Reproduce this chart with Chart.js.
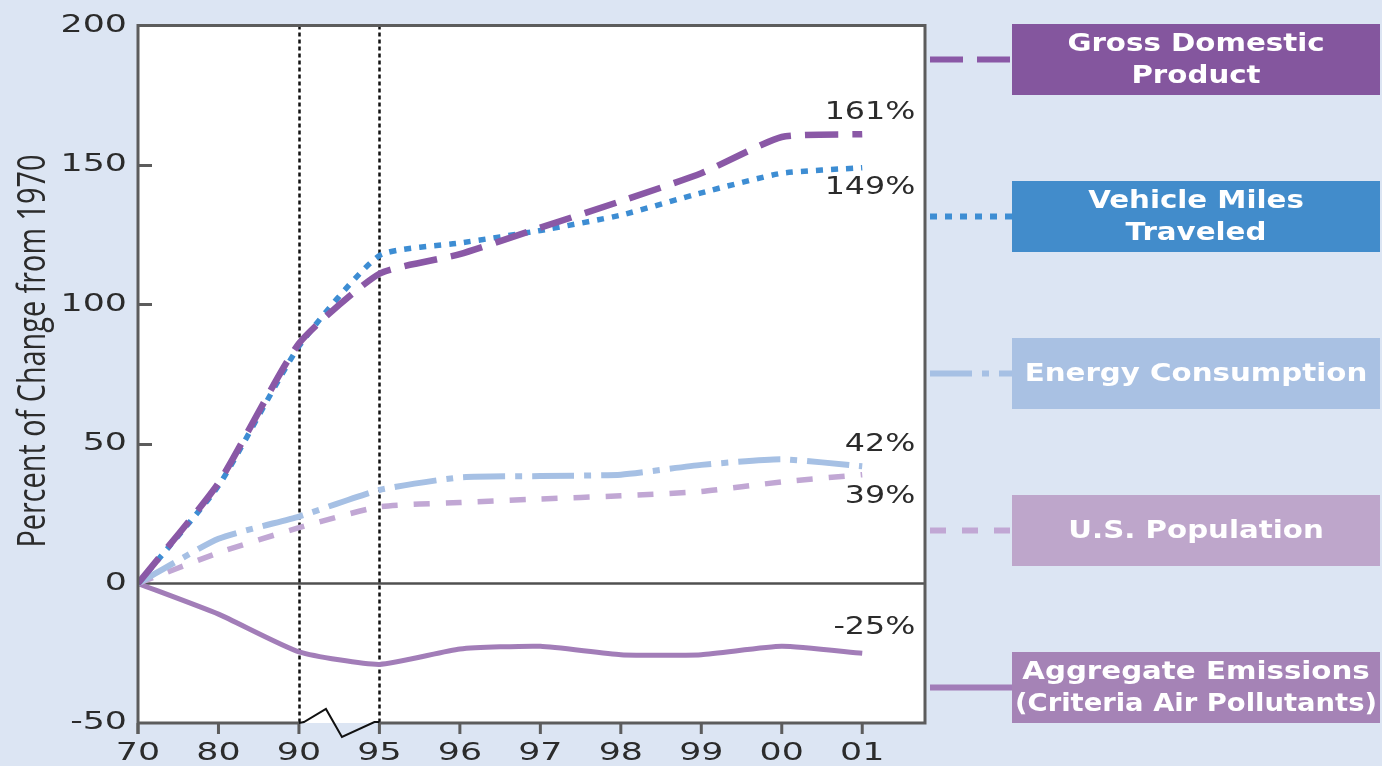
<!DOCTYPE html>
<html>
<head>
<meta charset="utf-8">
<title>Percent of Change from 1970</title>
<script src="https://cdn.jsdelivr.net/npm/chart.js@4/dist/chart.umd.min.js"></script>
<style>
  html, body { margin: 0; padding: 0; background: #DCE5F3; }
  #wrap { position: relative; width: 1382px; height: 766px; }
  canvas { display: block; }
</style>
</head>
<body>
<div id="wrap"><canvas id="chart" width="1382" height="766"></canvas></div>
<script>
// Years on the horizontal axis (1970, 1980, 1990, then yearly from 1995)
const categories = ['70', '80', '90', '95', '96', '97', '98', '99', '00', '01'];

// Percent change from 1970 for each series
const gdp = [0, 36, 86, 111, 118, 127.5, 137, 147, 160, 161];
const vehicleMiles = [0, 35, 85, 117.5, 122, 126.5, 132, 140, 147, 149];
const energy = [0, 16, 24, 33.5, 38, 38.5, 39, 42.5, 44.5, 42];
const population = [0, 11, 20, 27.5, 29, 30.3, 31.4, 33, 36.4, 39];
const emissions = [0, -11, -24.5, -29, -23.5, -22.5, -25.5, -25.5, -22.5, -25];

// Vertical axis ticks
const yTicks = [-50, 0, 50, 100, 150, 200];

// Legend captions (one entry per line of text)
const seriesNames = [
  ['Gross Domestic', 'Product'],
  ['Vehicle Miles', 'Traveled'],
  ['Energy Consumption'],
  ['U.S. Population'],
  ['Aggregate Emissions', '(Criteria Air Pollutants)']
];

const BG = '#DCE5F3';
const FRAME = '#5c5c5c';
const TEXT = '#2b2b2b';

const styles = [
  { line: '#8A58A6', box: '#84569E', width: 6.5, dash: [33, 14], label: { dy: -21 } },
  { line: '#3D8DD3', box: '#428CCB', width: 5.5, dash: [7, 8],  label: { dy: 20 } },
  { line: '#A6C0E4', box: '#A9C1E3', width: 6, dash: [42, 10, 7, 10], label: { dy: -22 } },
  { line: '#C1A7D4', box: '#BEA6CB', width: 5.5, dash: [16, 16], label: { dy: 22 } },
  { line: '#A27DB8', box: '#A583B6', width: 5, dash: [], label: { dy: -25 } }
];

const seriesValues = [gdp, vehicleMiles, energy, population, emissions];

const datasets = seriesValues.map((vals, i) => ({
  label: seriesNames[i].join(' '),
  data: vals.map((v, k) => ({ x: k, y: v })),
  borderColor: styles[i].line,
  borderWidth: styles[i].width,
  borderDash: styles[i].dash,
  borderCapStyle: 'butt',
  borderJoinStyle: 'round',
  tension: 0.18,
  pointRadius: 0,
  fill: false
}));

// Text in this chart is set wide: stretch every fillText horizontally about its anchor.
function installWideText(ctx) {
  const base = CanvasRenderingContext2D.prototype.fillText;
  ctx.textScaleX = 1;
  ctx.baseFillText = base;
  ctx.fillText = function (text, x, y, maxWidth) {
    const sx = this.textScaleX || 1;
    this.save();
    this.translate(x, y);
    this.scale(sx, 1);
    if (maxWidth === undefined) base.call(this, text, 0, 0);
    else base.call(this, text, 0, 0, maxWidth / sx);
    this.restore();
  };
}

function dashedLine(ctx, x1, y1, x2, y2, color, width, dash) {
  ctx.save();
  ctx.strokeStyle = color;
  ctx.lineWidth = width;
  ctx.setLineDash(dash);
  ctx.lineCap = 'butt';
  ctx.beginPath();
  ctx.moveTo(x1, y1);
  ctx.lineTo(x2, y2);
  ctx.stroke();
  ctx.restore();
}

const decorations = {
  id: 'decorations',
  beforeInit(chart) {
    installWideText(chart.ctx);
  },
  beforeDraw(chart) {
    const { ctx, chartArea: a } = chart;
    ctx.save();
    ctx.fillStyle = BG;
    ctx.fillRect(0, 0, chart.width, chart.height);
    ctx.fillStyle = '#ffffff';
    ctx.fillRect(a.left, a.top, a.right - a.left, a.bottom - a.top);
    ctx.restore();
    ctx.textScaleX = 1.45;
  },
  beforeDatasetsDraw(chart) {
    const { ctx, chartArea: a, scales: { x, y } } = chart;
    ctx.textScaleX = 1;
    // zero line
    const y0 = Math.round(y.getPixelForValue(0)) + 0.5;
    dashedLine(ctx, a.left, y0, a.right, y0, '#505050', 2.5, []);
    // scale changes at 1990 and 1995
    [2, 3].forEach(i => {
      const px = Math.round(x.getPixelForValue(i)) + 0.5;
      dashedLine(ctx, px, a.top, px, a.bottom, '#111111', 2.5, [4, 3]);
    });
  },
  afterDatasetsDraw(chart) {
    const { ctx, chartArea: a, scales: { x, y } } = chart;
    const x90 = x.getPixelForValue(2);
    const x95 = x.getPixelForValue(3);
    const b = a.bottom;

    ctx.save();
    ctx.strokeStyle = FRAME;
    ctx.lineWidth = 3;
    ctx.lineCap = 'butt';
    ctx.beginPath();
    // left, top, right borders
    ctx.moveTo(a.left, b + 11);
    ctx.lineTo(a.left, a.top);
    ctx.lineTo(a.right, a.top);
    ctx.lineTo(a.right, b + 1.5);
    // bottom axis, broken between 1990 and 1995
    ctx.moveTo(a.right, b);
    ctx.lineTo(x95, b);
    ctx.moveTo(x90, b);
    ctx.lineTo(a.left, b);
    ctx.stroke();

    // y tick marks point inward
    ctx.beginPath();
    yTicks.filter(v => v > -50 && v < 200 && v !== 0).forEach(v => {
      const py = Math.round(y.getPixelForValue(v)) + 0.5;
      ctx.moveTo(a.left, py);
      ctx.lineTo(a.left + 14, py);
    });
    // x tick marks point outward
    categories.forEach((c, i) => {
      const px = x.getPixelForValue(i);
      ctx.moveTo(px, b);
      ctx.lineTo(px, b + 11);
    });
    ctx.stroke();

    // axis break symbol
    ctx.strokeStyle = '#111111';
    ctx.lineWidth = 2;
    ctx.lineJoin = 'miter';
    ctx.beginPath();
    ctx.moveTo(x90, b);
    ctx.lineTo(x90 + 5, b - 1);
    ctx.lineTo(x90 + 27, b - 14);
    ctx.lineTo(x90 + 43, b + 14);
    ctx.lineTo(x95 - 5, b - 1);
    ctx.lineTo(x95, b - 1);
    ctx.stroke();
    ctx.restore();

    // end-of-line value labels
    ctx.save();
    ctx.textScaleX = 1.32;
    ctx.font = '24px "DejaVu Sans"';
    ctx.fillStyle = TEXT;
    ctx.textAlign = 'right';
    ctx.textBaseline = 'middle';
    seriesValues.forEach((vals, i) => {
      const last = vals.length - 1;
      const px = x.getPixelForValue(last);
      const py = y.getPixelForValue(vals[last]);
      ctx.fillText(Math.round(vals[last]) + '%', px + 53, py + styles[i].label.dy);
    });
    ctx.restore();
  },
  afterDraw(chart) {
    const { ctx, chartArea: a } = chart;
    ctx.save();
    ctx.textScaleX = 1;

    // legend: line sample + coloured caption box
    const boxLeft = a.right + 87;
    const boxRight = chart.width - 2;
    const boxH = 71;
    const firstTop = 24;
    const stepY = 157;
    seriesNames.forEach((lines, i) => {
      const top = firstTop + i * stepY;
      const cy = top + boxH / 2;
      dashedLine(ctx, a.right + 5, cy, boxLeft, cy, styles[i].line, 6, styles[i].dash);
      ctx.fillStyle = styles[i].box;
      ctx.fillRect(boxLeft, top, boxRight - boxLeft, boxH);
      ctx.fillStyle = '#ffffff';
      ctx.font = 'bold 24px "DejaVu Sans"';
      ctx.textAlign = 'center';
      ctx.textBaseline = 'middle';
      ctx.textScaleX = 1.22;
      const lh = 32;
      const startY = cy - (lines.length - 1) * lh / 2 + 1;
      lines.forEach((t, k) => {
        ctx.fillText(t, (boxLeft + boxRight) / 2, startY + k * lh, boxRight - boxLeft - 6);
      });
      ctx.textScaleX = 1;
    });

    // vertical axis title
    const title = 'Percent of Change from 1970';
    ctx.font = '24px "Open Sans"';
    const w = ctx.measureText(title).width;
    ctx.translate(45, 351);
    ctx.scale(1.6, 393 / w);
    ctx.rotate(-Math.PI / 2);
    ctx.fillStyle = TEXT;
    ctx.textAlign = 'center';
    ctx.textBaseline = 'alphabetic';
    ctx.baseFillText.call(ctx, title, 0, 0);
    ctx.restore();
  }
};

new Chart(document.getElementById('chart'), {
  type: 'line',
  data: { datasets },
  options: {
    responsive: false,
    animation: false,
    events: [],
    layout: { padding: { left: 0, top: 22, right: 457, bottom: 0 } },
    plugins: { legend: { display: false }, tooltip: { enabled: false }, title: { display: false } },
    scales: {
      x: {
        type: 'linear',
        min: 0,
        max: 9.78,
        grid: { display: false, drawTicks: false },
        border: { display: false },
        afterBuildTicks: s => { s.ticks = categories.map((c, i) => ({ value: i })); },
        afterFit: s => { s.height = 43; },
        ticks: {
          autoSkip: false,
          maxRotation: 0,
          padding: 16,
          color: TEXT,
          font: { family: '"DejaVu Sans"', size: 24 },
          callback: v => categories[v]
        }
      },
      y: {
        min: -50,
        max: 200,
        grid: { display: false, drawTicks: false },
        border: { display: false },
        afterBuildTicks: s => { s.ticks = yTicks.map(v => ({ value: v })); },
        afterFit: s => { s.width = 138; },
        ticks: {
          padding: 11,
          color: TEXT,
          font: { family: '"DejaVu Sans"', size: 24 },
          callback: v => String(v)
        }
      }
    }
  },
  plugins: [decorations]
});
</script>
</body>
</html>
